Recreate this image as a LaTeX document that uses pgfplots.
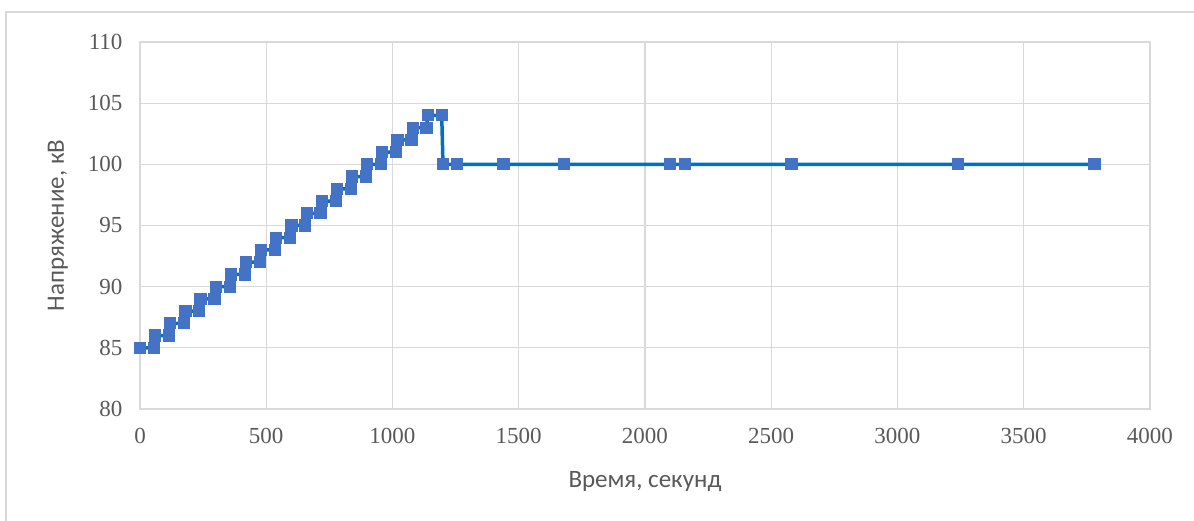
\documentclass[border=0pt]{standalone}
\usepackage{pgfplots}
\pgfplotsset{compat=1.18}
\usepackage{fontspec}
\setmainfont{Liberation Serif}
\newfontfamily\labelfont{Carlito}
\definecolor{gridgray}{HTML}{D9D9D9}
\definecolor{textgray}{HTML}{595959}
\definecolor{linecol}{HTML}{0070C0}
\definecolor{markcol}{HTML}{4472C4}
\begin{document}
\begin{tikzpicture}[x=1pt,y=1pt]
\path[use as bounding box] (0,0) rectangle (1194,521);
\draw[gridgray, line width=1.5pt] (6,-10) rectangle (1210,509);
\begin{axis}[
  at={(140pt,112pt)}, anchor=south west,
  scale only axis, width=1010pt, height=367pt,
  xmin=0, xmax=4000, ymin=80, ymax=110,
  xtick={0,500,...,4000}, ytick={80,85,...,110},
  grid=major, major grid style={gridgray, line width=1.3pt},
  axis line style={gridgray, line width=1.3pt},
  major tick length=0pt,
  /pgf/number format/assume math mode=true,
  /pgf/number format/1000 sep={},
  tick label style={font=\fontsize{23}{26}\selectfont, text=textgray},
  xticklabel style={yshift=-16pt},
  yticklabel style={xshift=-14pt},
  xlabel={Время, секунд}, ylabel={Напряжение, кВ},
  label style={font=\labelfont\fontsize{25}{28}\selectfont, text=textgray},
  xlabel style={at={(axis description cs:0.5,-0.199)}, anchor=center},
  ylabel style={at={(axis description cs:-0.0812,0.5)}, anchor=center},
  clip=false,
]
\addplot[color=linecol, line width=3.5pt, mark=square*, mark size=5.6pt,
  mark options={fill=markcol, draw=markcol, line width=0pt}] coordinates {
(0,85)(55,85)(60,86)(115,86)(120,87)(175,87)(180,88)(235,88)(240,89)(295,89)
(300,90)(355,90)(360,91)(415,91)(420,92)(475,92)(480,93)(535,93)(540,94)(595,94)
(600,95)(655,95)(660,96)(715,96)(720,97)(775,97)(780,98)(835,98)(840,99)(895,99)
(900,100)(955,100)(960,101)(1015,101)(1020,102)(1075,102)(1080,103)(1135,103)
(1140,104)(1195,104)(1200,100)(1255,100)(1440,100)(1680,100)(2100,100)(2160,100)
(2580,100)(3240,100)(3780,100)
};
\end{axis}
\end{tikzpicture}
\end{document}
